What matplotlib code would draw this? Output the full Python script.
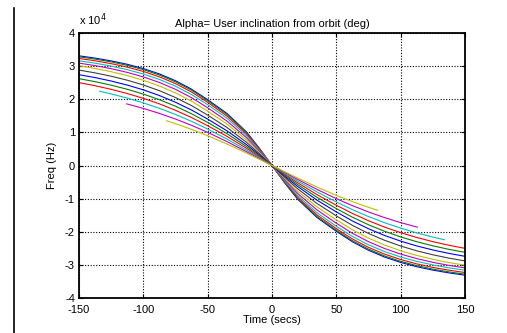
import matplotlib
matplotlib.use('Agg')
import matplotlib.pyplot as plt
from matplotlib.lines import Line2D

# Doppler frequency (units of 1e4 Hz) against time, one curve per inclination
t_full = [-150, -137.5, -125, -112.5, -100, -87.5, -75, -62.5, -50, -35, -20, -10, 0,
          10, 20, 35, 50, 62.5, 75, 87.5, 100, 112.5, 125, 137.5, 150]
f01 = [3.31, 3.241, 3.157, 3.054, 2.925, 2.763, 2.558, 2.301, 1.985, 1.570, 1.020, 0.530, 0,
       -0.530, -1.020, -1.570, -1.985, -2.301, -2.558, -2.763, -2.925, -3.054, -3.157, -3.241, -3.31]
f02 = [3.28, 3.211, 3.127, 3.022, 2.893, 2.730, 2.526, 2.270, 1.955, 1.540, 0.996, 0.518, 0,
       -0.518, -0.996, -1.540, -1.955, -2.270, -2.526, -2.730, -2.893, -3.022, -3.127, -3.211, -3.28]
f03 = [3.23, 3.160, 3.074, 2.969, 2.838, 2.675, 2.471, 2.216, 1.905, 1.491, 0.959, 0.497, 0,
       -0.497, -0.959, -1.491, -1.905, -2.216, -2.471, -2.675, -2.838, -2.969, -3.074, -3.160, -3.23]
f04 = [3.16, 3.088, 3.000, 2.893, 2.761, 2.597, 2.393, 2.141, 1.835, 1.426, 0.908, 0.470, 0,
       -0.470, -0.908, -1.426, -1.835, -2.141, -2.393, -2.597, -2.761, -2.893, -3.000, -3.088, -3.16]
f05 = [3.09, 3.014, 2.922, 2.810, 2.673, 2.505, 2.298, 2.046, 1.742, 1.341, 0.846, 0.436, 0,
       -0.436, -0.846, -1.341, -1.742, -2.046, -2.298, -2.505, -2.673, -2.810, -2.922, -3.014, -3.09]
f06 = [3.01, 2.929, 2.831, 2.714, 2.572, 2.399, 2.191, 1.939, 1.640, 1.250, 0.779, 0.399, 0,
       -0.399, -0.779, -1.250, -1.640, -1.939, -2.191, -2.399, -2.572, -2.714, -2.831, -2.929, -3.01]
f07 = [2.88, 2.795, 2.694, 2.574, 2.430, 2.257, 2.050, 1.806, 1.520, 1.147, 0.705, 0.361, 0,
       -0.361, -0.705, -1.147, -1.520, -1.806, -2.050, -2.257, -2.430, -2.574, -2.694, -2.795, -2.88]
f08 = [2.74, 2.653, 2.549, 2.427, 2.282, 2.111, 1.908, 1.673, 1.400, 1.046, 0.635, 0.324, 0,
       -0.324, -0.635, -1.046, -1.400, -1.673, -1.908, -2.111, -2.282, -2.427, -2.549, -2.653, -2.74]
f09 = [2.62, 2.530, 2.424, 2.300, 2.155, 1.985, 1.788, 1.560, 1.300, 0.961, 0.578, 0.293, 0,
       -0.293, -0.578, -0.961, -1.300, -1.560, -1.788, -1.985, -2.155, -2.300, -2.424, -2.530, -2.62]
f10 = [2.50, 2.407, 2.298, 2.172, 2.027, 1.859, 1.666, 1.446, 1.200, 0.880, 0.523, 0.264, 0,
       -0.264, -0.523, -0.880, -1.200, -1.446, -1.666, -1.859, -2.027, -2.172, -2.298, -2.407, -2.50]

t11 = [-134, -125, -112.5, -100, -87.5, -75, -62.5, -50, -35, -20, -10, 0,
       10, 20, 35, 50, 62.5, 75, 87.5, 100, 112.5, 125, 134]
f11 = [2.24, 2.160, 2.034, 1.890, 1.726, 1.540, 1.331, 1.100, 0.798, 0.470, 0.238, 0,
       -0.238, -0.470, -0.798, -1.100, -1.331, -1.540, -1.726, -1.890, -2.034, -2.160, -2.24]

t12 = [-113, -100, -87.5, -75, -62.5, -50, -35, -20, -10, 0,
       10, 20, 35, 50, 62.5, 75, 87.5, 100, 113]
f12 = [1.86, 1.723, 1.572, 1.402, 1.211, 1.000, 0.722, 0.421, 0.212, 0,
       -0.212, -0.421, -0.722, -1.000, -1.211, -1.402, -1.572, -1.723, -1.86]

t13 = [-82, -75, -62.5, -50, -35, -20, -10, 0, 10, 20, 35, 50, 62.5, 75, 82]
f13 = [1.35, 1.262, 1.090, 0.900, 0.649, 0.379, 0.191, 0,
       -0.191, -0.379, -0.649, -0.900, -1.090, -1.262, -1.35]

curves = [(t_full, f01), (t_full, f02), (t_full, f03), (t_full, f04), (t_full, f05),
          (t_full, f06), (t_full, f07), (t_full, f08), (t_full, f09), (t_full, f10),
          (t11, f11), (t12, f12), (t13, f13)]

# old matlab colour order b g r c m y k
colors = ['#0000ff', '#008000', '#ff0000', '#00bfbf', '#bf00bf', '#bfbf00', '#404040']

x_ticks = [-150, -100, -50, 0, 50, 100, 150]
y_ticks = [-4, -3, -2, -1, 0, 1, 2, 3, 4]

plt.rcParams['font.family'] = ['Liberation Sans', 'DejaVu Sans']
plt.rcParams['axes.unicode_minus'] = False

fig = plt.figure(figsize=(5.07, 3.33), dpi=100)
ax = fig.add_axes([0.156, 0.105, 0.761, 0.796])

for i, (t, f) in enumerate(curves):
    ax.plot(t, f, color=colors[i % len(colors)], linewidth=0.8)

ax.set_xlim(-150, 150)
ax.set_ylim(-4, 4)
ax.set_xticks(x_ticks)
ax.set_yticks(y_ticks)
ax.tick_params(direction='in', top=True, right=True, labelsize=8, length=3)
ax.tick_params(axis='x', pad=5)
ax.tick_params(axis='y', pad=3)
ax.grid(True, color='black', linestyle=(0, (1, 1.5)), linewidth=0.8)
for s in ax.spines.values():
    s.set_linewidth(1.3)

ax.set_title('Alpha= User inclination from orbit (deg)', fontsize=8, pad=4)
ax.set_xlabel('Time (secs)', fontsize=8, labelpad=0)
ax.set_ylabel('Freq (Hz)', fontsize=8, labelpad=6)
ax.text(0.0, 1.02, 'x 10$^4$', transform=ax.transAxes, fontsize=8, va='bottom', ha='left')

# page border line at the left
fig.add_artist(Line2D([13.5 / 507, 13.5 / 507], [0, 1 - 8 / 333], color='black', linewidth=1.2))

fig.savefig('out.png', dpi=100)
